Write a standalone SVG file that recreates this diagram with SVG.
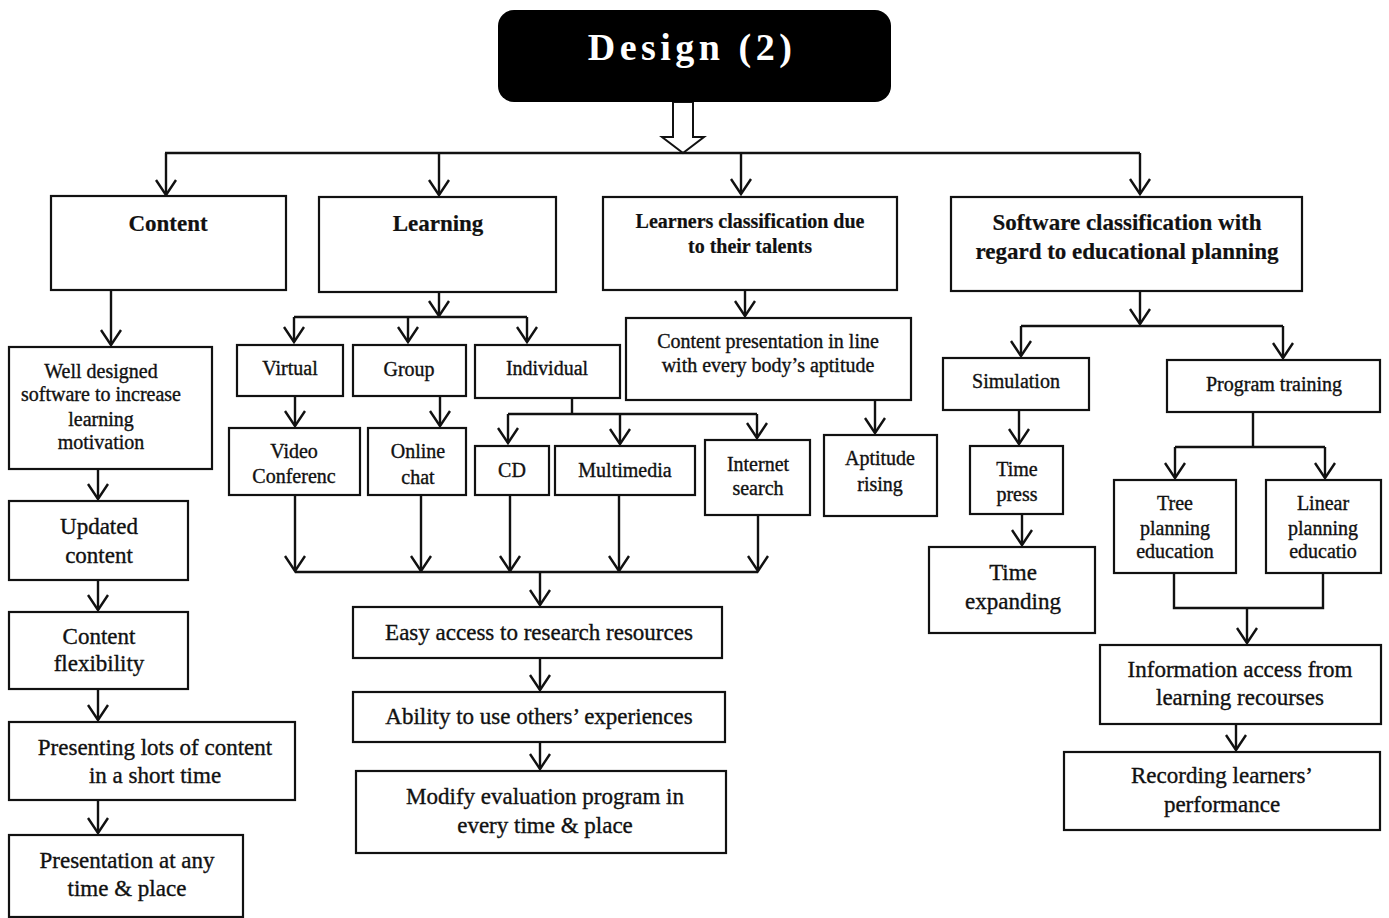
<svg xmlns="http://www.w3.org/2000/svg" width="1389" height="918" viewBox="0 0 1389 918" font-family="Liberation Serif, Times New Roman, serif">
  <style>
    .box { fill: #fff; stroke: #111; stroke-width: 2.2; }
    .t { font-size: 20px; text-anchor: middle; fill: #111; stroke: #111; stroke-width: 0.35; }
    .m { font-size: 23px; }
    .b { font-weight: bold; stroke-width: 0.2; }
    .ln { fill: none; stroke: #111; stroke-width: 2.4; }
    .ar { fill: none; stroke: #111; stroke-width: 2.4; marker-end: url(#ah); }
  </style>
  <defs>
    <marker id="ah" markerUnits="userSpaceOnUse" viewBox="-17 -12 19 24" markerWidth="19" markerHeight="24" refX="0" refY="0" orient="auto" overflow="visible">
      <path d="M-15,-10 L0,0 L-15,10" fill="none" stroke="#111" stroke-width="2.4" stroke-linejoin="miter"/>
    </marker>
  </defs>
  <rect width="1389" height="918" fill="#fff"/>

  <!-- connectors -->
  <g id="connectors">
    <!-- hollow arrow under the title -->
    <polygon points="673,102 673,137 662,137 683,153 704,137 693,137 693,102" fill="#fff" stroke="#111" stroke-width="2"/>
    <path class="ln" d="M165,153 H1140"/>
    <path class="ar" d="M166,153 V195"/>
    <path class="ar" d="M439,153 V195"/>
    <path class="ar" d="M741,153 V194"/>
    <path class="ar" d="M1140,153 V194"/>

    <!-- content column -->
    <path class="ar" d="M111,290 V345"/>
    <path class="ar" d="M98,469 V499"/>
    <path class="ar" d="M98,580 V610"/>
    <path class="ar" d="M98,689 V720"/>
    <path class="ar" d="M98,800 V833"/>

    <!-- learning split -->
    <path class="ar" d="M439,292 V316"/>
    <path class="ln" d="M294,317 H527"/>
    <path class="ar" d="M294,317 V342"/>
    <path class="ar" d="M408,317 V342"/>
    <path class="ar" d="M527,317 V342"/>
    <path class="ar" d="M295,396 V426"/>
    <path class="ar" d="M440,396 V426"/>

    <!-- individual split -->
    <path class="ln" d="M572,398 V414 M508,414 H757"/>
    <path class="ar" d="M508,414 V443"/>
    <path class="ar" d="M620,414 V444"/>
    <path class="ar" d="M757,414 V438"/>

    <!-- collector into research resources -->
    <path class="ar" d="M295,495 V571"/>
    <path class="ar" d="M421,495 V571"/>
    <path class="ar" d="M510,495 V571"/>
    <path class="ar" d="M619,495 V571"/>
    <path class="ar" d="M758,515 V571"/>
    <path class="ln" d="M295,572 H758"/>
    <path class="ar" d="M540,572 V605"/>
    <path class="ar" d="M540,658 V690"/>
    <path class="ar" d="M540,742 V769"/>

    <!-- learners classification -->
    <path class="ar" d="M745,290 V316"/>
    <path class="ar" d="M875,400 V433"/>

    <!-- software classification split -->
    <path class="ar" d="M1140,291 V324"/>
    <path class="ln" d="M1021,326 H1283"/>
    <path class="ar" d="M1021,326 V356"/>
    <path class="ar" d="M1283,326 V358"/>
    <path class="ar" d="M1019,410 V444"/>
    <path class="ar" d="M1022,514 V545"/>

    <!-- program training split -->
    <path class="ln" d="M1253,412 V447 M1175,447 H1325"/>
    <path class="ar" d="M1175,447 V478"/>
    <path class="ar" d="M1325,447 V478"/>
    <path class="ln" d="M1174,573 V608 H1323 V573"/>
    <path class="ar" d="M1247,608 V643"/>
    <path class="ar" d="M1236,724 V750"/>
  </g>

  <!-- title -->
  <g id="design">
    <rect x="498" y="10" width="393" height="92" rx="16" fill="#000"/>
    <text x="692" y="60" font-size="38" font-weight="bold" letter-spacing="4.5" text-anchor="middle" fill="#fff">Design (2)</text>
  </g>

  <!-- top level -->
  <g id="content">
    <rect class="box" x="51" y="196" width="235" height="94"/>
    <text class="t m b" x="168" y="231">Content</text>
  </g>
  <g id="learning">
    <rect class="box" x="319" y="197" width="237" height="95"/>
    <text class="t m b" x="438" y="231">Learning</text>
  </g>
  <g id="learners-classification">
    <rect class="box" x="603" y="197" width="294" height="93"/>
    <text class="t b" x="750" y="228">Learners classification due</text>
    <text class="t b" x="750" y="253">to their talents</text>
  </g>
  <g id="software-classification">
    <rect class="box" x="951" y="197" width="351" height="94"/>
    <text class="t m b" x="1127" y="230">Software classification with</text>
    <text class="t m b" x="1127" y="259">regard to educational planning</text>
  </g>

  <!-- content column -->
  <g id="well-designed">
    <rect class="box" x="9" y="347" width="203" height="122"/>
    <text class="t" x="101" y="378">Well designed</text>
    <text class="t" x="101" y="401">software to increase</text>
    <text class="t" x="101" y="426">learning</text>
    <text class="t" x="101" y="449">motivation</text>
  </g>
  <g id="updated-content">
    <rect class="box" x="9" y="501" width="179" height="79"/>
    <text class="t m" x="99" y="534">Updated</text>
    <text class="t m" x="99" y="563">content</text>
  </g>
  <g id="content-flexibility">
    <rect class="box" x="9" y="612" width="179" height="77"/>
    <text class="t m" x="99" y="644">Content</text>
    <text class="t m" x="99" y="671">flexibility</text>
  </g>
  <g id="presenting-lots">
    <rect class="box" x="9" y="722" width="286" height="78"/>
    <text class="t m" x="155" y="755">Presenting lots of content</text>
    <text class="t m" x="155" y="783">in a short time</text>
  </g>
  <g id="presentation-any-time">
    <rect class="box" x="9" y="835" width="234" height="82"/>
    <text class="t m" x="127" y="868">Presentation at any</text>
    <text class="t m" x="127" y="896">time &amp; place</text>
  </g>

  <!-- learning branch -->
  <g id="virtual">
    <rect class="box" x="237" y="345" width="106" height="51"/>
    <text class="t" x="290" y="375">Virtual</text>
  </g>
  <g id="group">
    <rect class="box" x="353" y="345" width="113" height="51"/>
    <text class="t" x="409" y="376">Group</text>
  </g>
  <g id="individual">
    <rect class="box" x="475" y="345" width="145" height="53"/>
    <text class="t" x="547" y="375">Individual</text>
  </g>
  <g id="video-conference">
    <rect class="box" x="229" y="428" width="131" height="67"/>
    <text class="t" x="294" y="458">Video</text>
    <text class="t" x="294" y="483">Conferenc</text>
  </g>
  <g id="online-chat">
    <rect class="box" x="368" y="428" width="98" height="67"/>
    <text class="t" x="418" y="458">Online</text>
    <text class="t" x="418" y="484">chat</text>
  </g>
  <g id="cd">
    <rect class="box" x="475" y="446" width="74" height="49"/>
    <text class="t" x="512" y="477">CD</text>
  </g>
  <g id="multimedia">
    <rect class="box" x="555" y="446" width="140" height="49"/>
    <text class="t" x="625" y="477">Multimedia</text>
  </g>
  <g id="internet-search">
    <rect class="box" x="705" y="440" width="105" height="75"/>
    <text class="t" x="758" y="471">Internet</text>
    <text class="t" x="758" y="495">search</text>
  </g>
  <g id="easy-access">
    <rect class="box" x="353" y="607" width="369" height="51"/>
    <text class="t m" x="539" y="640">Easy access to research resources</text>
  </g>
  <g id="ability">
    <rect class="box" x="353" y="692" width="372" height="50"/>
    <text class="t m" x="539" y="724">Ability to use others’ experiences</text>
  </g>
  <g id="modify-evaluation">
    <rect class="box" x="356" y="771" width="370" height="82"/>
    <text class="t m" x="545" y="804">Modify evaluation program in</text>
    <text class="t m" x="545" y="833">every time &amp; place</text>
  </g>

  <!-- learners branch -->
  <g id="content-presentation">
    <rect class="box" x="626" y="318" width="285" height="82"/>
    <text class="t" x="768" y="348">Content presentation in line</text>
    <text class="t" x="768" y="372">with every body’s aptitude</text>
  </g>
  <g id="aptitude-rising">
    <rect class="box" x="824" y="435" width="113" height="81"/>
    <text class="t" x="880" y="465">Aptitude</text>
    <text class="t" x="880" y="491">rising</text>
  </g>

  <!-- software branch -->
  <g id="simulation">
    <rect class="box" x="943" y="358" width="146" height="52"/>
    <text class="t" x="1016" y="388">Simulation</text>
  </g>
  <g id="program-training">
    <rect class="box" x="1167" y="360" width="213" height="52"/>
    <text class="t" x="1274" y="391">Program training</text>
  </g>
  <g id="time-press">
    <rect class="box" x="970" y="446" width="93" height="68"/>
    <text class="t" x="1017" y="476">Time</text>
    <text class="t" x="1017" y="501">press</text>
  </g>
  <g id="time-expanding">
    <rect class="box" x="929" y="547" width="166" height="86"/>
    <text class="t m" x="1013" y="580">Time</text>
    <text class="t m" x="1013" y="609">expanding</text>
  </g>
  <g id="tree-planning">
    <rect class="box" x="1114" y="480" width="122" height="93"/>
    <text class="t" x="1175" y="510">Tree</text>
    <text class="t" x="1175" y="535">planning</text>
    <text class="t" x="1175" y="558">education</text>
  </g>
  <g id="linear-planning">
    <rect class="box" x="1266" y="480" width="115" height="93"/>
    <text class="t" x="1323" y="510">Linear</text>
    <text class="t" x="1323" y="535">planning</text>
    <text class="t" x="1323" y="558">educatio</text>
  </g>
  <g id="information-access">
    <rect class="box" x="1100" y="645" width="281" height="79"/>
    <text class="t m" x="1240" y="677">Information access from</text>
    <text class="t m" x="1240" y="705">learning recourses</text>
  </g>
  <g id="recording-performance">
    <rect class="box" x="1064" y="752" width="316" height="78"/>
    <text class="t m" x="1222" y="783">Recording learners’</text>
    <text class="t m" x="1222" y="812">performance</text>
  </g>
</svg>
